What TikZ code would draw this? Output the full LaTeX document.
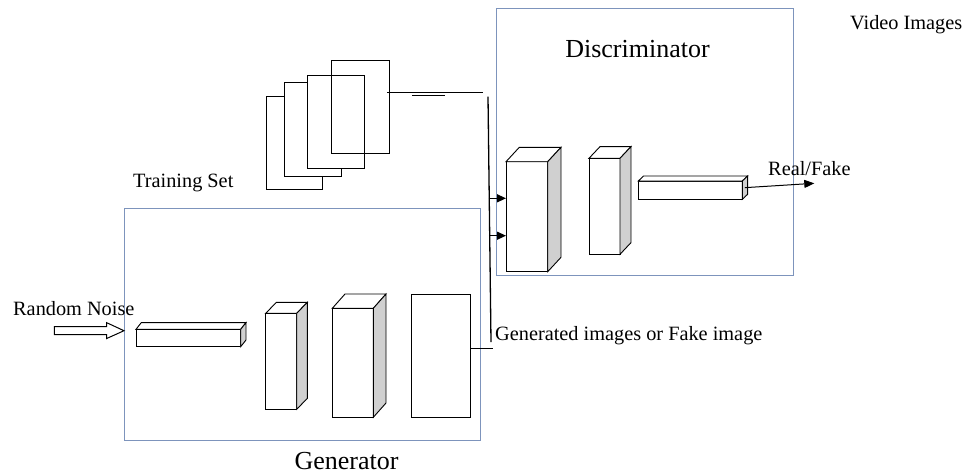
\documentclass[tikz,border=0pt]{standalone}
\usepackage{fontspec}
\setmainfont{Liberation Serif}
\usetikzlibrary{arrows.meta}
\definecolor{framecol}{RGB}{125,148,188}
\definecolor{sidegray}{RGB}{208,208,208}
\tikzset{
  container/.style={draw=framecol, line width=1pt},
  boxline/.style={draw=black, line width=0.9pt, line join=miter},
  sheet/.style={draw=black, line width=1pt},
  wire/.style={draw=black, line width=1.3pt},
  feed/.style={wire, -{Triangle[length=9pt,width=8pt]}},
  lbl/.style={inner sep=0pt, font=\fontsize{20.3}{22}\selectfont},
  title/.style={inner sep=0pt, font=\fontsize{26}{28}\selectfont},
}
% layer block: #1 name, #2 left, #3 top, #4 right, #5 bottom, #6 depth dx, #7 depth dy
\newcommand\layerblock[7]{%
  \draw[boxline, fill=white] (#2,#3) rectangle (#4,#5);
  \draw[boxline, fill=white] (#2,#3) -- (#2+#6,#3-#7) -- (#4+#6,#3-#7) -- (#4,#3) -- cycle;
  \draw[boxline, fill=sidegray] (#4,#3) -- (#4+#6,#3-#7) -- (#4+#6,#5-#7) -- (#4,#5) -- cycle;
  \coordinate (#1-nw) at (#2,#3);
  \coordinate (#1-sw) at (#2,#5);
  \coordinate (#1-side) at (#4+#6/2,{(#3+#5)/2-#7/2});
}
\begin{document}
\begin{tikzpicture}[x=1pt,y=-1pt]
\useasboundingbox (0,0) rectangle (968,474);

% containers
\draw[container] (496.5,8.5) rectangle (793.5,275.5);
\draw[container] (124.5,208.5) rectangle (480.5,440.5);

% titles and labels
\node[title, anchor=base] (dtitle) at (637.5,57) {Discriminator};
\node[title, anchor=base] (gtitle) at (346.5,469) {Generator};
\node[lbl, anchor=base west] (video) at (850,29) {Video Images};
\node[lbl, anchor=base west] (train) at (133,187) {Training Set};
\node[lbl, anchor=base west] (noise) at (13,315) {Random Noise};
\node[lbl, anchor=base west] (fake) at (495,340) {Generated images or Fake image};
\node[lbl, anchor=base west] (rf) at (768,175) {Real/Fake};

% training set: stacked sheets
\draw[sheet, fill=white] (266.5,96.5) rectangle (322.5,189.5);
\draw[sheet, fill=white] (284.5,82.5) rectangle (341.5,176.5);
\draw[sheet, fill=white] (307.5,75.5) rectangle (364.5,168.5);
\draw[sheet] (331.5,60.5) rectangle (389.5,153.5);
\coordinate (ts-out) at (387,92.7);
\coordinate (ts-end) at (483.3,92.7);
\draw[wire] (ts-out) -- (ts-end);
\draw[line width=1pt] (412,95.6) -- (445,95.6);

% discriminator layers
\layerblock{d1}{506}{161.7}{547.7}{271.7}{13.3}{14.4}
\layerblock{d2}{589}{158.3}{620}{254.3}{11}{11.7}
\layerblock{d3}{638.3}{181}{742.3}{199.3}{5.3}{5}

% generator layers
\layerblock{g1}{136}{329.3}{240.7}{346.7}{5.3}{6.7}
\layerblock{g2}{265.7}{313.3}{296.7}{409.3}{10.7}{11}
\layerblock{g3}{332.3}{308.3}{373.3}{417.3}{12.7}{14.3}
\node[boxline, draw, inner sep=0pt, outer sep=0pt, minimum width=59.7pt, minimum height=123.7pt] (g4) at (440.85,355.85) {};
\coordinate (g4-out) at (g4.east |- 0,348.3);

% noise input arrow
\draw[line width=1pt, fill=white]
  (54.3,326.7) -- (106.7,326.7) -- (106.7,322.7) -- (124,330.7)
  -- (106.7,338.5) -- (106.7,334.5) -- (54.3,334.5) -- cycle;

% shared bus to the discriminator
\coordinate (bus-top) at (488,96.7);
\coordinate (bus-bot) at (491,342);
\coordinate (bus-g) at (492.7,348.3);
\draw[wire] (bus-top) -- (bus-bot);
\draw[wire] (g4-out) -- (bus-g);
\coordinate (in1) at (488.5,198.3);
\coordinate (in2) at (488.8,235.7);
\draw[feed] (in1) -- (d1-nw |- in1);
\draw[feed] (in2) -- (d1-nw |- in2);

% discriminator output
\coordinate (out-tip) at (814.3,183.3);
\draw[wire, line width=1pt, -{Triangle[length=10pt,width=8pt]}] (d3-side) -- (out-tip);
\end{tikzpicture}
\end{document}
